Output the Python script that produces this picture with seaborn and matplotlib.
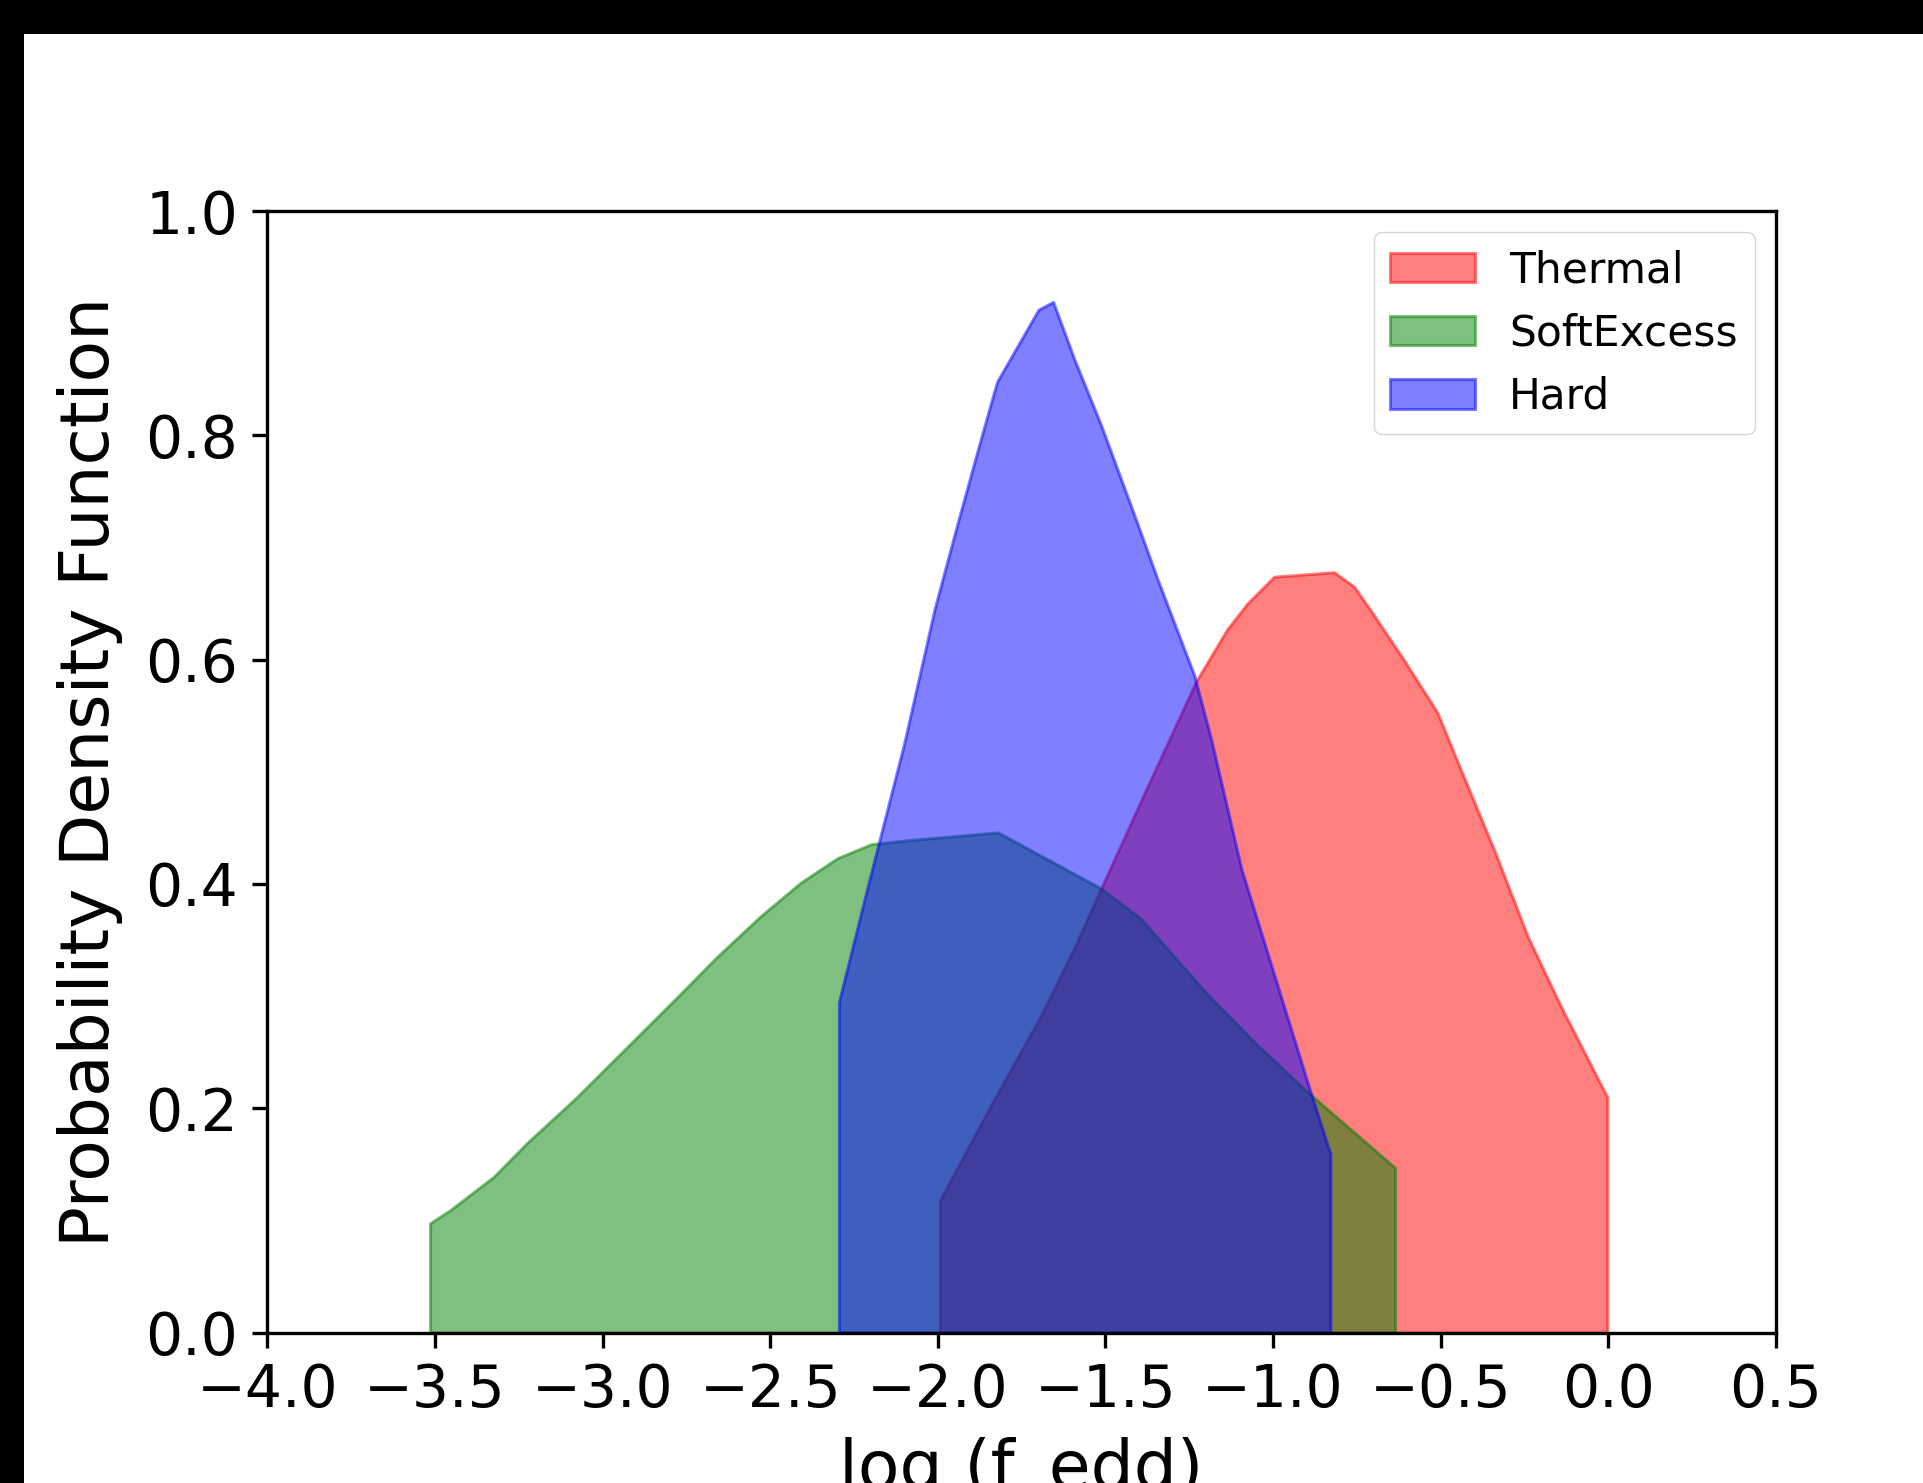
import numpy as np
import matplotlib
matplotlib.use("Agg")
import matplotlib.pyplot as plt
import seaborn as sns
from matplotlib.patches import Rectangle

# density curves (x = log f_edd, y = pdf)
thermal_x = [-1.994, -1.841, -1.692, -1.59, -1.513, -1.373, -1.229, -1.137, -1.077, -0.997,
             -0.818, -0.758, -0.709, -0.608, -0.51, -0.44, -0.34, -0.24, -0.14, -0.003]
thermal_y = [0.118, 0.203, 0.283, 0.345, 0.396, 0.488, 0.581, 0.627, 0.650, 0.674,
             0.678, 0.665, 0.644, 0.599, 0.553, 0.502, 0.430, 0.353, 0.290, 0.210]

soft_x = [-3.515, -3.456, -3.325, -3.226, -3.077, -2.936, -2.778, -2.659, -2.530, -2.41,
          -2.30, -2.199, -2.09, -1.821, -1.513, -1.394, -1.194, -1.045, -0.895, -0.636]
soft_y = [0.0975, 0.109, 0.139, 0.169, 0.210, 0.252, 0.299, 0.335, 0.371, 0.401,
          0.423, 0.4355, 0.439, 0.446, 0.396, 0.369, 0.301, 0.256, 0.214, 0.147]

hard_x = [-2.295, -2.21, -2.10, -2.01, -1.94, -1.88, -1.832, -1.823, -1.70, -1.656,
          -1.593, -1.513, -1.414, -1.345, -1.235, -1.183, -1.095, -0.895, -0.835, -0.829]
hard_y = [0.295, 0.397, 0.526, 0.645, 0.723, 0.788, 0.839, 0.848, 0.912, 0.919,
          0.868, 0.809, 0.729, 0.672, 0.586, 0.527, 0.414, 0.221, 0.165, 0.160]

series = [("Thermal", thermal_x, thermal_y, "red"),
          ("SoftExcess", soft_x, soft_y, "green"),
          ("Hard", hard_x, hard_y, "blue")]

x_ticks = [-4.0, -3.5, -3.0, -2.5, -2.0, -1.5, -1.0, -0.5, 0.0, 0.5]
y_ticks = [0.0, 0.2, 0.4, 0.6, 0.8, 1.0]

sns.set_style("ticks", {"axes.edgecolor": "black", "xtick.color": "black",
                        "ytick.color": "black", "axes.labelcolor": "black",
                        "text.color": "black"})
plt.rcParams["font.family"] = ["DejaVu Sans"]
plt.rcParams.update({
    "axes.linewidth": 2.4,
    "xtick.major.size": 10.5, "ytick.major.size": 10.5,
    "xtick.major.width": 2.4, "ytick.major.width": 2.4,
    "xtick.major.pad": 10.5, "ytick.major.pad": 10.5,
})

fig = plt.figure(figsize=(19.24, 14.83), dpi=100)
# black strips at the top and left of the screenshot
fig.patches.append(Rectangle((0, 0), 24 / 1924, 1, transform=fig.transFigure,
                             facecolor="black", edgecolor="none", zorder=5))
fig.patches.append(Rectangle((0, 1 - 34 / 1483), 1, 34 / 1483, transform=fig.transFigure,
                             facecolor="black", edgecolor="none", zorder=5))

ax = fig.add_axes([0.139, 0.1014, 0.784, 0.7563])

for name, xs, ys, c in series:
    ax.fill_between(xs, ys, color=c, alpha=0.5, linewidth=2.2, label=name)

ax.set_xlim(-4.0, 0.5)
ax.set_ylim(0.0, 1.0)
ax.set_xticks(x_ticks)
ax.set_yticks(y_ticks)
ax.tick_params(labelsize=42)
ax.set_xlabel("log (f_edd)", fontsize=49, labelpad=13)
ax.set_ylabel("Probability Density Function", fontsize=49, labelpad=16)

ax.legend(loc="upper right", fontsize=30.5, frameon=True, framealpha=0.8,
          edgecolor="0.8", fancybox=True)

fig.savefig("out.png", dpi=100, facecolor="white")
